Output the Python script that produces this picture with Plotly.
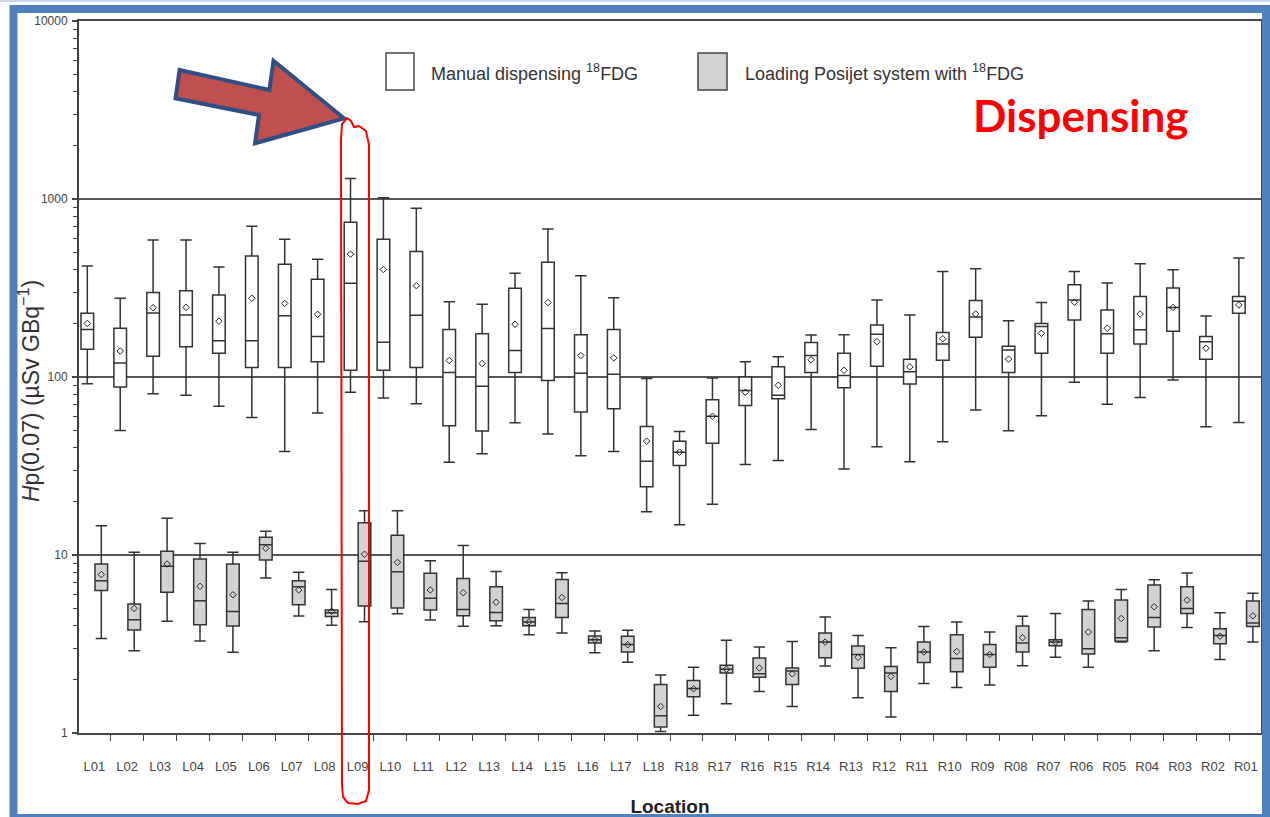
import plotly.graph_objects as go

# ---------------- data ----------------
categories = ["L01", "L02", "L03", "L04", "L05", "L06", "L07", "L08", "L09", "L10",
              "L11", "L12", "L13", "L14", "L15", "L16", "L17", "L18",
              "R18", "R17", "R16", "R15", "R14", "R13", "R12", "R11", "R10",
              "R09", "R08", "R07", "R06", "R05", "R04", "R03", "R02", "R01"]

# Manual dispensing 18FDG (white boxes)
man_low = [91.6, 50, 80.5, 78.9, 68.4, 59.3, 38.1, 62.7, 82.2, 76.2, 70.8, 33.2, 37.0, 55.3, 47.9, 36.1, 38.1, 17.5,
           14.8, 19.3, 32.2, 33.9, 50.7, 30.4, 40.6, 33.4, 43.3, 65.2, 49.9, 60.5, 93.3, 70.2, 76.6, 96.2, 52.5, 55.6]
man_q1 = [143, 88, 131, 148, 136, 113, 113, 122, 109, 109, 113, 53.3, 49.7, 106, 95.7, 63.5, 66.3, 24.2,
          31.8, 42.5, 69.2, 75.5, 106, 87.1, 115, 91.4, 124, 167, 106, 136, 209, 136, 153, 181, 126, 228]
man_median = [185, 120, 229, 223, 160, 160, 221, 169, 336, 157, 222, 106, 88.6, 141, 187, 105, 103.5, 33.6,
              37.8, 60.2, 84.1, 78.9, 132, 102, 174, 107, 153, 217, 142, 192, 271, 175, 184, 246, 158, 266]
man_q3 = [228, 188, 298, 305, 289, 479, 430, 354, 741, 595, 507, 185, 175, 315, 441, 173, 185, 52.7,
          43.6, 74.5, 100, 114, 156, 136, 196, 126, 178, 269, 149, 200, 330, 238, 283, 316, 169, 283]
man_high = [421, 277, 588, 588, 415, 702, 595, 459, 1303, 1017, 886, 265, 256, 383, 678, 371, 279, 98,
            49.4, 98.6, 122, 130, 172, 173, 271, 223, 392, 405, 207, 262, 392, 337, 433, 400, 220, 466]
man_mean = [200, 140, 245, 246, 206, 277, 259, 225, 490, 402, 326, 124, 119, 198, 262, 132, 128, 43.6,
            37.8, 60.2, 82.2, 89.8, 125, 109, 158, 114, 164, 226, 126, 176, 263, 188, 226, 246, 145, 254]

# Loading Posijet system with 18FDG (grey boxes)
pos_low = [3.39, 2.90, 4.24, 3.29, 2.84, 7.43, 4.54, 4.03, 4.22, 4.67, 4.32, 3.98, 4.01, 3.57, 3.65, 2.82, 2.50, 1.02,
           1.26, 1.46, 1.71, 1.41, 2.38, 1.58, 1.23, 1.90, 1.80, 1.86, 2.39, 2.66, 2.34, 3.24, 2.90, 3.91, 2.59, 3.24]
pos_q1 = [6.31, 3.79, 6.17, 4.05, 3.99, 9.37, 5.26, 4.52, 5.17, 5.04, 4.91, 4.55, 4.27, 4.00, 4.45, 3.20, 2.85, 1.08,
          1.60, 2.17, 2.06, 1.87, 2.65, 2.31, 1.71, 2.49, 2.21, 2.34, 2.85, 3.09, 2.78, 3.28, 3.94, 4.69, 3.17, 3.97]
pos_median = [7.17, 4.33, 8.64, 5.53, 4.81, 11.4, 6.64, 4.74, 9.21, 8.06, 5.71, 4.94, 4.76, 4.21, 5.34, 3.34, 3.14, 1.25,
              1.78, 2.28, 2.15, 2.23, 3.24, 2.76, 2.17, 2.85, 2.62, 2.76, 3.20, 3.24, 2.97, 3.43, 4.45, 5.00, 3.53, 4.15]
pos_q3 = [8.9, 5.31, 10.5, 9.5, 8.9, 12.6, 7.17, 4.91, 15.2, 12.9, 7.89, 7.38, 6.63, 4.45, 7.29, 3.51, 3.50, 1.87,
          1.97, 2.40, 2.64, 2.32, 3.65, 3.08, 2.36, 3.24, 3.56, 3.14, 3.99, 3.34, 4.94, 5.58, 6.79, 6.64, 3.85, 5.51]
pos_high = [14.6, 10.35, 16.1, 11.6, 10.35, 13.6, 8.0, 6.41, 17.7, 17.7, 9.29, 11.3, 8.09, 4.94, 7.95, 3.74, 3.78, 2.12,
            2.34, 3.32, 3.04, 3.27, 4.49, 3.53, 3.01, 3.97, 4.21, 3.69, 4.53, 4.69, 5.51, 6.41, 7.25, 7.91, 4.73, 6.09]
pos_mean = [7.76, 5.01, 8.9, 6.67, 5.98, 10.9, 6.36, 4.83, 10.1, 9.09, 6.36, 6.14, 5.43, 4.21, 5.77, 3.34, 3.13, 1.41,
            1.77, 2.28, 2.32, 2.15, 3.24, 2.66, 2.08, 2.85, 2.87, 2.76, 3.43, 3.24, 3.69, 4.40, 5.12, 5.58, 3.50, 4.55]

y_tickvals = [1, 10, 100, 1000, 10000]
y_ticktext = ["1", "10", "100", "1000", "10000"]

series_names = ["Manual dispensing <sup>18</sup>FDG", "Loading Posijet system with <sup>18</sup>FDG"]

# ---------------- style ----------------
FONT = "Liberation Sans, Arial, sans-serif"
LINE = "#333333"
GREY = "#d2d2d2"
W, H = 1270, 817
PL, PR, PT, PB = 79, 1261, 21, 733   # plot area in pixels
GAP = 0.149


def px(x):
    return (x - PL) / (PR - PL)


def py(y):
    return (PB - y) / (PB - PT)


fig = go.Figure()

for name, fill, grp, lo, q1, md, q3, hi in [
    (series_names[0], "white", "m", man_low, man_q1, man_median, man_q3, man_high),
    (series_names[1], GREY, "p", pos_low, pos_q1, pos_median, pos_q3, pos_high),
]:
    fig.add_trace(go.Box(
        x=categories, q1=q1, median=md, q3=q3, lowerfence=lo, upperfence=hi,
        name=name, offsetgroup=grp, fillcolor=fill,
        line=dict(color=LINE, width=1.5), whiskerwidth=0.9,
        boxpoints=False, showlegend=False, hoverinfo="skip",
    ))

for name, grp, mean in [(series_names[0], "m", man_mean), (series_names[1], "p", pos_mean)]:
    fig.add_trace(go.Scatter(
        x=categories, y=mean, mode="markers", offsetgroup=grp, name=name + " mean",
        marker=dict(symbol="diamond-open", size=5, color="#222222", line=dict(width=1, color="#222222")),
        showlegend=False, hoverinfo="skip",
    ))

shapes = []
# legend boxes
shapes.append(dict(type="rect", xref="paper", yref="paper", x0=px(386), x1=px(414), y0=py(90), y1=py(53),
                   fillcolor="white", line=dict(color="#444444", width=1.5), layer="above"))
shapes.append(dict(type="rect", xref="paper", yref="paper", x0=px(698), x1=px(727), y0=py(90), y1=py(53),
                   fillcolor=GREY, line=dict(color="#444444", width=1.5), layer="above"))

# red arrow
arrow_pts = [(179.6, 70), (269.4, 90), (273.5, 60.7), (344, 118.3), (255, 143.3), (259, 115), (175.5, 98.3)]
path = "M " + " L ".join(f"{px(a):.5f},{py(b):.5f}" for a, b in arrow_pts) + " Z"
shapes.append(dict(type="path", xref="paper", yref="paper", path=path, fillcolor="#c0504d",
                   line=dict(color="#2f4f85", width=4), layer="above"))

# red outline around L09
outline = [(341, 140), (342, 124), (347, 118), (351, 121), (354, 127), (359, 126), (366, 131), (369, 145),
           (369, 790), (366, 801), (358, 804), (348, 803), (343, 797), (342, 785)]
path2 = "M " + " L ".join(f"{px(a):.5f},{py(b):.5f}" for a, b in outline) + " Z"
shapes.append(dict(type="path", xref="paper", yref="paper", path=path2, fillcolor="rgba(0,0,0,0)",
                   line=dict(color="#ff0000", width=2), layer="above"))

# slide frame
shapes.append(dict(type="rect", xref="paper", yref="paper", x0=px(0), x1=px(1270), y0=py(2), y1=py(0),
                   fillcolor="#c9d6ea", line=dict(width=0), layer="above"))
shapes.append(dict(type="rect", xref="paper", yref="paper", x0=px(13.5), x1=px(1266), y0=py(818), y1=py(9),
                   fillcolor="rgba(0,0,0,0)", line=dict(color="#4f81bd", width=8), layer="above"))

annotations = [
    dict(xref="paper", yref="paper", x=px(429), y=py(72), xanchor="left", yanchor="middle",
         text=series_names[0], showarrow=False, font=dict(family=FONT, size=18, color="#333333")),
    dict(xref="paper", yref="paper", x=px(743), y=py(72), xanchor="left", yanchor="middle",
         text=series_names[1], showarrow=False, font=dict(family=FONT, size=18, color="#333333")),
    dict(xref="paper", yref="paper", x=px(1080), y=py(115), xanchor="center", yanchor="middle",
         text="<b>Dispensing</b>", showarrow=False,
         font=dict(family="Lato, Noto Sans, sans-serif", size=44, color="#ff0000")),
    dict(xref="paper", yref="paper", x=px(29), y=py(391), xanchor="center", yanchor="middle", textangle=-90,
         text="<i>H</i>p(0.07) (µSv GBq<sup>−1</sup>)", showarrow=False,
         font=dict(family=FONT, size=23, color="#333333")),
]

fig.update_layout(
    width=W, height=H,
    margin=dict(l=PL, r=W - PR, t=PT, b=H - PB, pad=0, autoexpand=False),
    paper_bgcolor="white", plot_bgcolor="white",
    boxmode="group", boxgap=GAP, boxgroupgap=0.1,
    scattermode="group", scattergap=GAP,
    showlegend=False,
    shapes=shapes, annotations=annotations,
    xaxis=dict(
        type="category", categoryorder="array", categoryarray=categories,
        range=[-0.465, 35.46], tickson="boundaries", ticks="outside", ticklen=6, tickwidth=1.2,
        tickcolor="#444444", showline=True, linecolor="#444444", linewidth=2, mirror=True,
        showgrid=False, tickangle=0, tickfont=dict(family=FONT, size=13, color="#444444"),
        ticklabelstandoff=20, automargin=False,
        title=dict(text="<b>Location</b>", font=dict(family=FONT, size=19, color="#222222"), standoff=27),
    ),
    yaxis=dict(
        type="log", range=[0, 4], tickvals=y_tickvals, ticktext=y_ticktext,
        ticks="outside", ticklen=5, tickwidth=1.5, tickcolor="#444444",
        showline=True, linecolor="#444444", linewidth=2, mirror=True,
        showgrid=True, gridcolor="#555555", gridwidth=1.6, zeroline=False,
        tickfont=dict(family=FONT, size=12, color="#444444"), ticklabelstandoff=2, automargin=False,
        minor=dict(ticks="outside", ticklen=4, tickwidth=1, tickcolor="#444444", dtick="D1", showgrid=False),
    ),
)

fig.write_html("out.html", config={"displayModeBar": False},
               post_script="document.body.style.margin='0';")
